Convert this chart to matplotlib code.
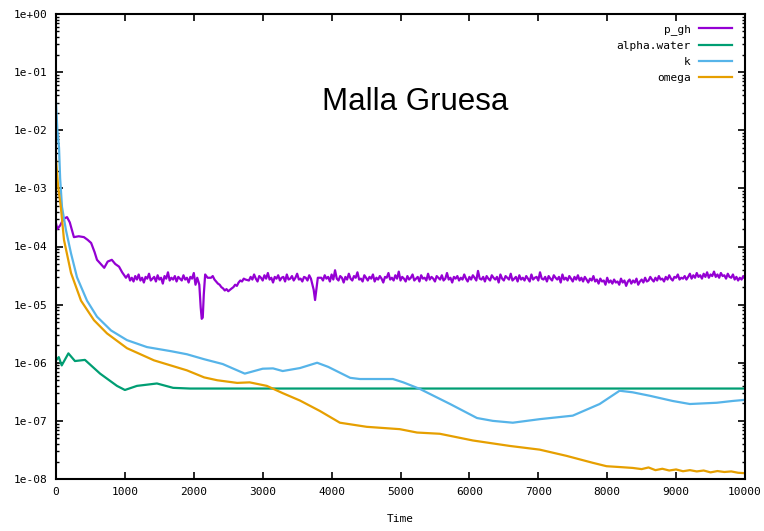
import numpy as np
import matplotlib
matplotlib.use("Agg")
import matplotlib.pyplot as plt
from matplotlib.ticker import LogLocator, FixedLocator, NullFormatter

# ---------------- data ----------------
series_names = ["p_gh", "alpha.water", "k", "omega"]
series_colors = ["#9400D3", "#009E73", "#56B4E9", "#E69F00"]

# p_gh : early part (absolute values)
pgh_t_early = [0, 20, 60, 110, 160, 200, 260, 330, 405, 460, 510, 560, 595, 650,
               700, 750, 810, 860, 915, 960, 1015, 1050, 1075]
pgh_v_early = [2.5e-4, 2.0e-4, 2.3e-4, 3.0e-4, 3.2e-4, 2.6e-4, 1.45e-4, 1.5e-4,
               1.45e-4, 1.3e-4, 1.15e-4, 8e-5, 5.9e-5, 5.0e-5, 4.3e-5, 5.5e-5,
               5.9e-5, 5.0e-5, 4.5e-5, 3.6e-5, 2.9e-5, 3.3e-5, 2.6e-5]
# p_gh : later parts (in units of 1e-5)
PGH_UNIT = 1e-5
pgh_t_a = list(range(1100, 2051, 25))
pgh_v_a = [2.9, 2.5, 3.1, 2.7, 3.3, 2.6, 2.9, 2.4, 3.0, 2.8,
           3.4, 2.6, 2.8, 3.0, 2.5, 3.2, 2.7, 2.9, 2.3, 3.1,
           2.8, 3.6, 2.6, 2.9, 2.7, 3.1, 2.5, 3.0, 2.8, 2.6,
           3.2, 2.7, 2.9, 2.4, 3.0, 2.8, 3.5, 2.2, 2.9]
pgh_t_dip1 = [2080, 2100, 2115, 2130, 2145, 2165, 2200]
pgh_v_dip1 = [2.2, 0.9, 0.57, 0.6, 1.5, 3.3, 2.9]
pgh_t_b = list(range(2250, 2751, 25))
pgh_v_b = [2.9, 3.1, 2.7, 2.5, 2.3, 2.2, 2.0, 1.9, 1.75, 1.85, 1.7,
           1.8, 1.9, 2.0, 2.2, 2.1, 2.4, 2.6, 2.5, 2.8, 2.7]
pgh_t_c = list(range(2800, 3701, 25))
pgh_v_c = [2.6, 3.0, 2.7, 3.3, 2.8, 2.5, 3.1, 2.9, 2.6, 3.2,
           2.8, 3.5, 2.7, 2.9, 2.4, 3.0, 2.8, 3.2, 2.6, 2.9,
           3.0, 2.5, 3.3, 2.7, 2.8, 3.1, 2.6, 2.9, 3.4, 2.7,
           2.8, 2.5, 3.0, 2.9, 2.6, 3.2, 2.8]
pgh_t_dip2 = [3740, 3760, 3780, 3800]
pgh_v_dip2 = [1.8, 1.2, 1.9, 2.9]
pgh_t_d = list(range(3850, 10001, 25))
pgh_v_d = [2.9, 2.6, 3.2, 2.8, 3.0, 2.5, 3.3, 2.7, 3.9, 2.8,
           2.6, 3.1, 2.9, 2.4, 3.0, 2.7, 3.4, 2.8, 2.6, 3.1,
           2.9, 3.6, 2.7, 2.8, 2.5, 3.2, 2.9, 2.6, 3.0, 2.8,
           3.3, 2.5, 2.9, 2.7, 3.1, 2.8, 2.4, 3.0, 2.9, 3.5,
           2.7, 2.9, 2.6, 3.2, 2.8, 3.7, 2.6, 3.0, 2.8, 2.5,
           3.1, 2.7, 2.9, 3.3, 2.6, 2.8, 3.0, 2.5, 3.2, 2.8,
           2.9, 2.6, 3.4, 2.7, 3.0, 2.8, 2.5, 3.1, 2.9, 2.7,
           3.2, 2.6, 2.8, 3.5, 2.7, 2.9, 2.4, 3.0, 2.8, 3.1,
           2.6, 2.9, 2.7, 3.3, 2.8, 2.5, 3.0, 2.7, 3.2, 2.9,
           2.6, 3.8, 2.8, 2.7, 3.0, 2.5, 3.1, 2.8, 2.6, 3.2,
           2.9, 2.7, 3.0, 2.4, 3.3, 2.8, 2.6, 3.1, 2.9, 2.7,
           3.4, 2.6, 2.8, 3.0, 2.5, 3.2, 2.7, 2.9, 2.6, 3.1,
           2.8, 2.5, 3.3, 2.7, 2.9, 3.0, 2.6, 3.6, 2.8, 2.7,
           3.0, 2.5, 3.1, 2.8, 2.6, 3.2, 2.9, 2.7, 3.0, 2.4,
           3.3, 2.7, 2.9, 2.6, 3.1, 2.8, 2.5, 3.0, 2.7, 3.2,
           2.6, 2.9, 2.5, 3.0, 2.7, 2.4, 2.8, 2.6, 3.1, 2.5,
           2.7, 2.3, 2.8, 2.5, 2.6, 2.2, 2.9, 2.4, 2.6, 2.3,
           2.7, 2.4, 2.5, 2.2, 2.8, 2.4, 2.6, 2.1, 2.5, 2.7,
           2.3, 2.6, 2.4, 2.8, 2.2, 2.5, 2.7, 2.4, 2.9, 2.5,
           2.6, 3.0, 2.7, 2.5, 2.9, 2.6, 3.1, 2.7, 2.8, 2.5,
           3.0, 2.7, 3.2, 2.8, 2.6, 3.0, 2.9, 3.3, 2.7, 2.9,
           2.8, 3.1, 2.7, 3.0, 3.4, 2.8, 3.2, 2.9, 3.5, 3.0,
           3.2, 2.8, 3.4, 3.0, 3.6, 2.9, 3.3, 3.1, 3.7, 3.0,
           3.3, 2.9, 3.5, 3.1, 3.2, 2.8, 3.4, 3.0, 2.9, 3.3,
           2.7, 3.0, 2.6, 2.9, 2.7, 3.1, 2.8]

# alpha.water
alpha_t = [0, 40, 83, 180, 275, 420, 640, 885, 1000, 1175, 1465, 1700, 1945, 10000]
alpha_v = [1.1e-6, 1.25e-6, 9e-7, 1.45e-6, 1.07e-6, 1.12e-6, 6.5e-7, 4.0e-7,
           3.4e-7, 4.0e-7, 4.4e-7, 3.7e-7, 3.6e-7, 3.6e-7]

# k
k_t = [0, 20, 44, 60, 87, 145, 218, 305, 450, 595, 798, 1030, 1320, 1670, 1900,
       2150, 2420, 2740, 3000, 3150, 3290, 3540, 3790, 3950, 4270, 4410, 4890,
       5040, 5280, 5720, 6110, 6340, 6630, 7020, 7500, 7890, 8180, 8370, 8620,
       8950, 9200, 9590, 9820, 10000]
k_v = [3e-2, 1e-2, 5e-3, 1.5e-3, 4.8e-4, 1.9e-4, 7.6e-5, 2.95e-5, 1.17e-5,
       6.2e-6, 3.6e-6, 2.45e-6, 1.86e-6, 1.58e-6, 1.4e-6, 1.15e-6, 9.5e-7,
       6.5e-7, 7.9e-7, 8.0e-7, 7.2e-7, 8.1e-7, 1.0e-6, 8.5e-7, 5.5e-7, 5.25e-7,
       5.25e-7, 4.6e-7, 3.55e-7, 1.95e-7, 1.12e-7, 1.0e-7, 9.3e-8, 1.07e-7,
       1.23e-7, 1.95e-7, 3.3e-7, 3.1e-7, 2.7e-7, 2.2e-7, 1.95e-7, 2.05e-7,
       2.2e-7, 2.3e-7]

# omega
omega_t = [0, 30, 70, 116, 218, 363, 551, 740, 1030, 1422, 1900, 2150, 2340,
           2630, 2810, 3060, 3290, 3540, 3830, 4120, 4510, 4990, 5240, 5570,
           6050, 6590, 7020, 7410, 7790, 7990, 8200, 8370, 8500, 8600, 8700, 8800,
           8900, 9000, 9100, 9200, 9300, 9400, 9500, 9600, 9700, 9800, 9900, 10000]
omega_v = [3.2e-3, 1.1e-3, 4.8e-4, 1.3e-4, 3.5e-5, 1.17e-5, 5.4e-6, 3.2e-6,
           1.78e-6, 1.1e-6, 7.4e-7, 5.6e-7, 5.0e-7, 4.5e-7,
           4.6e-7, 4.0e-7, 3.0e-7, 2.24e-7, 1.48e-7, 9.3e-8, 7.9e-8, 7.2e-8,
           6.3e-8, 6.0e-8, 4.6e-8, 3.7e-8, 3.2e-8, 2.5e-8, 1.9e-8, 1.66e-8,
           1.6e-8, 1.55e-8, 1.48e-8, 1.58e-8, 1.42e-8, 1.5e-8, 1.4e-8, 1.46e-8,
           1.36e-8, 1.42e-8, 1.35e-8, 1.4e-8, 1.3e-8, 1.37e-8, 1.32e-8, 1.35e-8,
           1.28e-8, 1.26e-8]

x_ticks = [0, 1000, 2000, 3000, 4000, 5000, 6000, 7000, 8000, 9000, 10000]
x_tick_labels = ["0", "1000", "2000", "3000", "4000", "5000", "6000", "7000",
                 "8000", "9000", "10000"]
y_ticks = [1e-8, 1e-7, 1e-6, 1e-5, 1e-4, 1e-3, 1e-2, 1e-1, 1e0]
y_tick_labels = ["1e-08", "1e-07", "1e-06", "1e-05", "1e-04", "1e-03", "1e-02",
                 "1e-01", "1e+00"]
title_text = "Malla Gruesa"
x_label = "Time"

# ---------------- assemble ----------------
pgh_t = pgh_t_early + pgh_t_a + pgh_t_dip1 + pgh_t_b + pgh_t_c + pgh_t_dip2 + pgh_t_d
pgh_v = (pgh_v_early
         + [v * PGH_UNIT for v in pgh_v_a + pgh_v_dip1 + pgh_v_b + pgh_v_c
            + pgh_v_dip2 + pgh_v_d])

W, H = 764, 531
fig = plt.figure(figsize=(W / 100, H / 100), dpi=100)
L, R, T, B = 56, 745, 14, 479
ax = fig.add_axes([L / W, 1 - B / H, (R - L) / W, (B - T) / H])

mono = "DejaVu Sans Mono"
lw = 1.6
ax.plot(pgh_t, pgh_v, color=series_colors[0], lw=lw, label=series_names[0])
ax.plot(alpha_t, alpha_v, color=series_colors[1], lw=lw, label=series_names[1])
ax.plot(k_t, k_v, color=series_colors[2], lw=lw, label=series_names[2])
ax.plot(omega_t, omega_v, color=series_colors[3], lw=lw, label=series_names[3])

ax.set_yscale("log")
ax.set_xlim(0, 10000)
ax.set_ylim(1e-8, 1e0)

ax.xaxis.set_major_locator(FixedLocator(x_ticks))
ax.set_xticklabels(x_tick_labels, fontfamily=mono, fontsize=8)
ax.yaxis.set_major_locator(FixedLocator(y_ticks))
ax.set_yticklabels(y_tick_labels, fontfamily=mono, fontsize=8)
ax.yaxis.set_minor_locator(LogLocator(base=10, subs=np.arange(2, 10), numticks=20))
ax.yaxis.set_minor_formatter(NullFormatter())

ax.tick_params(which="both", direction="in", top=True, right=True, color="black")
ax.tick_params(which="major", length=5, width=1.2, pad=6)
ax.tick_params(which="minor", length=2.5, width=1.0)
for s in ax.spines.values():
    s.set_linewidth(1.5)

ax.set_xlabel(x_label, fontfamily=mono, fontsize=8, labelpad=12)

leg = ax.legend(loc="upper right", bbox_to_anchor=((732 - L) / (R - L), (B - 24) / (B - T)),
                frameon=False, markerfirst=False, borderpad=0, borderaxespad=0,
                handlelength=3.0, handletextpad=0.7, labelspacing=0.55,
                prop={"family": mono, "size": 8})

fig.text(415 / W, 1 - 110 / H, title_text, ha="center", va="baseline",
         fontfamily="Liberation Sans", fontsize=22.5)

fig.savefig("out.png", dpi=100)
